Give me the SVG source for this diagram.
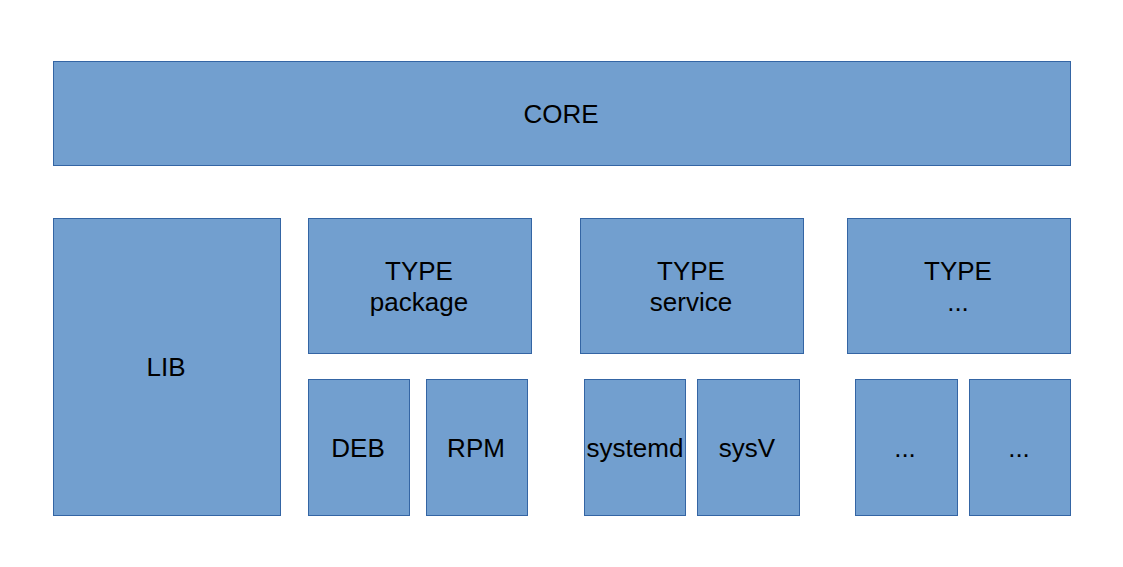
<svg xmlns="http://www.w3.org/2000/svg" width="1123" height="567" viewBox="0 0 1123 567">
<style>
rect{fill:#729fcf;stroke:#3465a4;stroke-width:1}
text{font-family:"Liberation Sans",Arial,sans-serif;font-size:26px;fill:#000;text-anchor:middle}
</style>
<rect x="0" y="0" width="1123" height="567" style="fill:#fff;stroke:none"/>
<g id="core"><rect x="53.5" y="61.5" width="1017" height="104"/><text x="561" y="123">CORE</text></g>
<g id="lib"><rect x="53.5" y="218.5" width="227" height="297"/><text x="166" y="376">LIB</text></g>
<g id="type-package"><rect x="308.5" y="218.5" width="223" height="135"/><text x="419" y="280">TYPE</text><text x="419" y="311">package</text></g>
<g id="type-service"><rect x="580.5" y="218.5" width="223" height="135"/><text x="691" y="280">TYPE</text><text x="691" y="311">service</text></g>
<g id="type-other"><rect x="847.5" y="218.5" width="223" height="135"/><text x="958" y="280">TYPE</text><text x="958" y="311">...</text></g>
<g id="deb"><rect x="308.5" y="379.5" width="101" height="136"/><text x="358" y="457">DEB</text></g>
<g id="rpm"><rect x="426.5" y="379.5" width="101" height="136"/><text x="476" y="457">RPM</text></g>
<g id="systemd"><rect x="584.5" y="379.5" width="101" height="136"/><text x="635" y="457">systemd</text></g>
<g id="sysv"><rect x="697.5" y="379.5" width="102" height="136"/><text x="747" y="457">sysV</text></g>
<g id="other1"><rect x="855.5" y="379.5" width="102" height="136"/><text x="905" y="457">...</text></g>
<g id="other2"><rect x="969.5" y="379.5" width="101" height="136"/><text x="1019" y="457">...</text></g>
<g id="connectors"></g>
</svg>
